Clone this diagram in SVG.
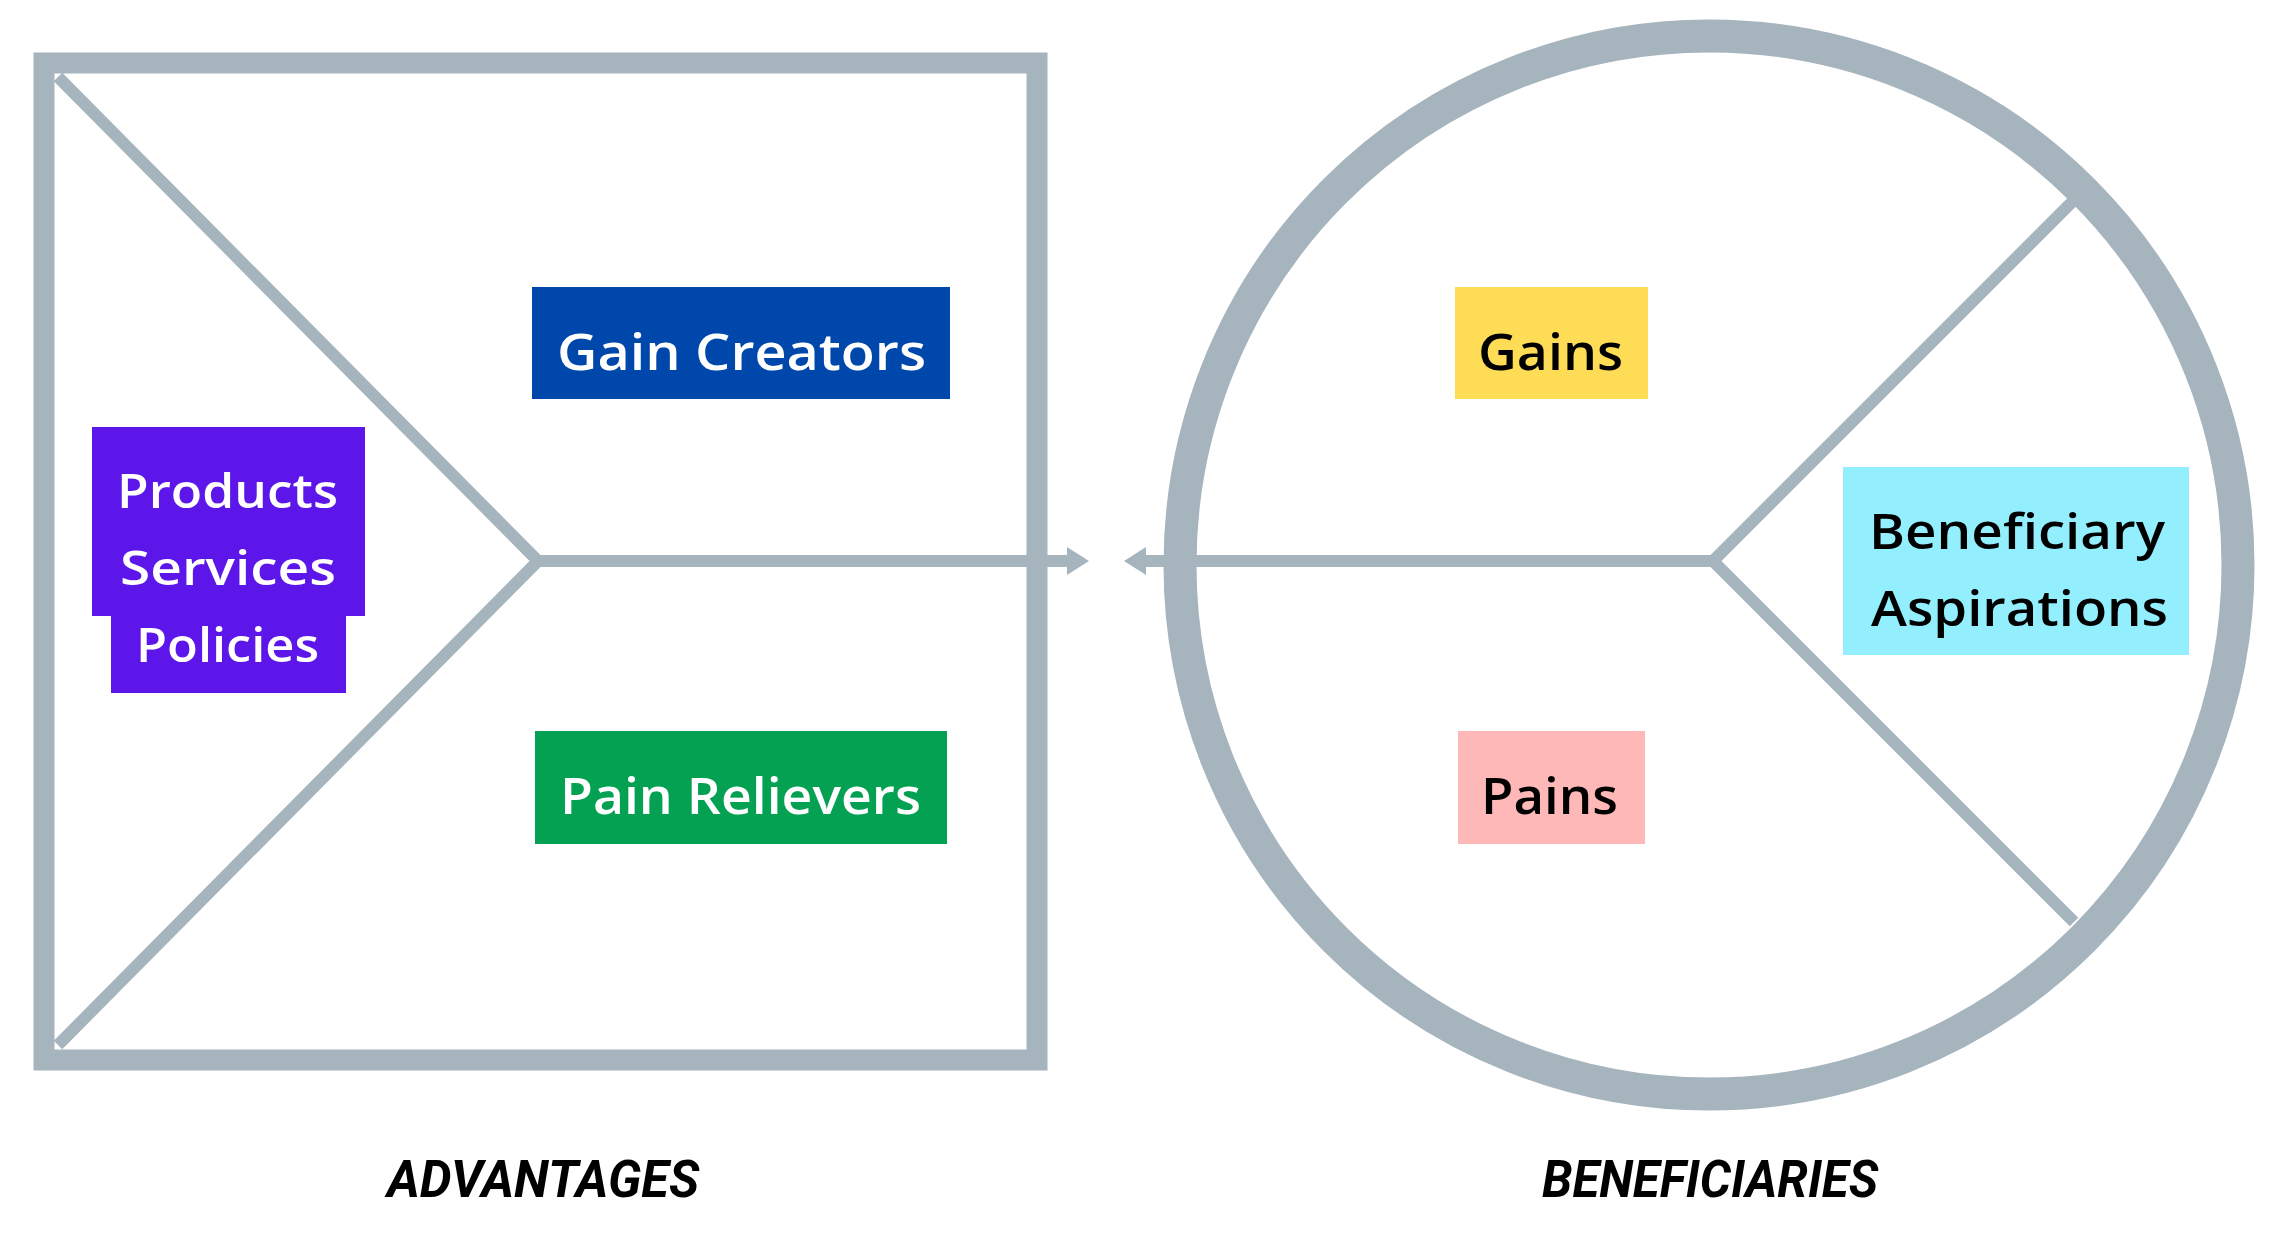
<svg xmlns="http://www.w3.org/2000/svg" width="2275" height="1251" viewBox="0 0 2275 1251">
  <style>
    .frame { fill: none; stroke: #A6B4BE; }
    .thin { fill: none; stroke: #A6B4BE; stroke-width: 12; stroke-linecap: butt; }
    .lbl { font-family: "Open Sans", "Noto Sans", "DejaVu Sans", sans-serif; font-weight: 600; text-anchor: start; }
    .w { fill: #FFFFFF; }
    .k { fill: #000000; }
    .cap { font-family: Roboto, "Liberation Sans", sans-serif; font-weight: 700; font-style: italic; font-size: 52px; fill: #000000; }
  </style>
  <defs>
    <marker id="head" viewBox="0 0 22 28" refX="0" refY="14" markerWidth="22" markerHeight="28" markerUnits="userSpaceOnUse" orient="auto">
      <path d="M0,0 L22,14 L0,28 Z" fill="#A6B4BE"/>
    </marker>
  </defs>
  <rect width="2275" height="1251" fill="#FFFFFF"/>

  <g id="advantages-frame">
    <rect class="frame" x="44" y="63" width="993" height="997" stroke-width="21"/>
    <polyline class="thin" points="58,77 538,561 58,1045"/>
  </g>

  <g id="beneficiaries-frame">
    <ellipse class="frame" cx="1709" cy="565" rx="529" ry="529" stroke-width="33"/>
    <polyline class="thin" points="2074,200 1713,561 2074,922"/>
  </g>

  <g id="connectors">
    <line class="thin" x1="538" y1="561" x2="1067" y2="561" marker-end="url(#head)"/>
    <line class="thin" x1="1713" y1="561" x2="1146" y2="561" marker-end="url(#head)"/>
  </g>

  <g id="gain-creators">
    <rect x="532" y="287" width="418" height="112" fill="#0047AB"/>
    <text class="lbl w" x="557" y="370" font-size="50" textLength="369" lengthAdjust="spacingAndGlyphs">Gain Creators</text>
  </g>

  <g id="products-services-policies">
    <rect x="92" y="427" width="273" height="189" fill="#5C16EA"/>
    <rect x="111" y="614" width="235" height="79" fill="#5C16EA"/>
    <text class="lbl w" x="117" y="508" font-size="47" textLength="221" lengthAdjust="spacingAndGlyphs">Products</text>
    <text class="lbl w" x="120" y="585" font-size="47" textLength="216" lengthAdjust="spacingAndGlyphs">Services</text>
    <text class="lbl w" x="136" y="662" font-size="47" textLength="183" lengthAdjust="spacingAndGlyphs">Policies</text>
  </g>

  <g id="pain-relievers">
    <rect x="535" y="731" width="412" height="113" fill="#04A152"/>
    <text class="lbl w" x="560" y="814" font-size="50" textLength="361" lengthAdjust="spacingAndGlyphs">Pain Relievers</text>
  </g>

  <g id="gains">
    <rect x="1455" y="287" width="193" height="112" fill="#FFDC55"/>
    <text class="lbl k" x="1478" y="370" font-size="50" textLength="145" lengthAdjust="spacingAndGlyphs">Gains</text>
  </g>

  <g id="beneficiary-aspirations">
    <rect x="1843" y="467" width="346" height="188" fill="#93EFFD"/>
    <text class="lbl k" x="1869" y="549" font-size="48" textLength="296" lengthAdjust="spacingAndGlyphs">Beneficiary</text>
    <text class="lbl k" x="1871" y="626" font-size="48" textLength="297" lengthAdjust="spacingAndGlyphs">Aspirations</text>
  </g>

  <g id="pains">
    <rect x="1458" y="731" width="187" height="113" fill="#FFB8B8"/>
    <text class="lbl k" x="1481" y="814" font-size="50" textLength="137" lengthAdjust="spacingAndGlyphs">Pains</text>
  </g>

  <g id="caption-advantages">
    <text class="cap" x="387" y="1197" textLength="312" lengthAdjust="spacingAndGlyphs">ADVANTAGES</text>
  </g>
  <g id="caption-beneficiaries">
    <text class="cap" x="1542" y="1197" textLength="336" lengthAdjust="spacingAndGlyphs">BENEFICIARIES</text>
  </g>
</svg>
